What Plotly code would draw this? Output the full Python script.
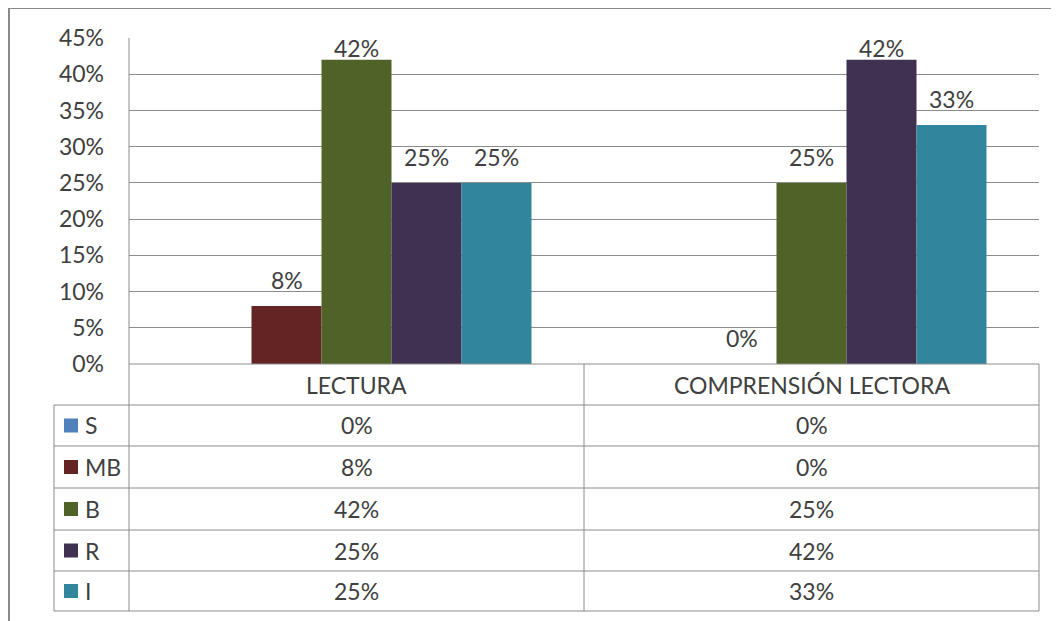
import plotly.graph_objects as go

# data
categories = ["LECTURA", "COMPRENSIÓN LECTORA"]
series_names = ["S", "MB", "B", "R", "I"]
s_vals = [0.00, 0.00]
mb_vals = [0.08, 0.00]
b_vals = [0.42, 0.25]
r_vals = [0.25, 0.42]
i_vals = [0.25, 0.33]
series_values = [s_vals, mb_vals, b_vals, r_vals, i_vals]
y_ticks = [0, 0.05, 0.10, 0.15, 0.20, 0.25, 0.30, 0.35, 0.40, 0.45]

colors = ["#4F81BD", "#632523", "#4F6228", "#403151", "#31859C"]
show_label = [False, True, True, True, True]

OFF = 8  # page body margin of the browser
W, H = 1059 - OFF, 621 - OFF
PL, PR, PT, PB = 129, 1039, 38, 364  # plot area in window pixels
FONT = "Lato"
FS = 23
TXT = "#404040"
LINE = "#8C8C8C"


def px(x):
    return (x - PL) / (PR - PL)


def py(y):
    return (PB - y) / (PB - PT)


fig = go.Figure()

bar_w = 70 / 455
n = len(series_names)
for k, (name, vals) in enumerate(zip(series_names, series_values)):
    fig.add_trace(go.Bar(
        x=list(range(len(categories))),
        y=vals,
        name=name,
        width=bar_w,
        offset=(k - n / 2) * bar_w,
        marker=dict(color=colors[k], line=dict(width=0)),
        showlegend=False,
        hoverinfo="skip",
    ))

# data labels above bars (kept inside the plot area like Excel does)
ymax = 0.45
for k, vals in enumerate(series_values):
    if not show_label[k]:
        continue
    for c, v in enumerate(vals):
        gap = (ymax - v) / ymax * (PB - PT)
        shift = min(26, gap - 10)
        fig.add_annotation(
            x=c + (k - n / 2 + 0.5) * bar_w, y=v, xref="x", yref="y",
            text=f"{v:.0%}", showarrow=False, xanchor="center",
            yanchor="middle", yshift=shift,
            font=dict(family=FONT, size=FS, color=TXT),
        )

shapes = []


def hline(x0, x1, y):
    shapes.append(dict(type="line", xref="paper", yref="paper",
                       x0=px(x0), x1=px(x1), y0=py(y), y1=py(y),
                       line=dict(color=LINE, width=1)))


def vline(x, y0, y1):
    shapes.append(dict(type="line", xref="paper", yref="paper",
                       x0=px(x), x1=px(x), y0=py(y0), y1=py(y1),
                       line=dict(color=LINE, width=1)))


# data table grid
row_lines = [405, 446, 488, 530, 571, 611]
hline(PL, PR, 364)
for yl in row_lines:
    hline(54, PR, yl)
vline(PL, PT, 611)
vline(584, 364, 611)
vline(PR, 364, 611)
vline(54, 405, 611)

# outer chart border
shapes.append(dict(type="line", xref="paper", yref="paper",
                   x0=px(9), x1=px(9), y0=py(625), y1=py(8),
                   line=dict(color="#8A8A8A", width=2)))
shapes.append(dict(type="line", xref="paper", yref="paper",
                   x0=px(9), x1=px(1065), y0=py(8), y1=py(8),
                   line=dict(color="#8A8A8A", width=2)))

col_centers = [(PL + 584) / 2, (584 + PR) / 2]
for c, cat in enumerate(categories):
    fig.add_annotation(x=px(col_centers[c]), y=py(385), xref="paper", yref="paper",
                       text=cat, showarrow=False, xanchor="center", yanchor="middle",
                       font=dict(family=FONT, size=FS, color=TXT))

for k, name in enumerate(series_names):
    yc = (row_lines[k] + row_lines[k + 1]) / 2
    shapes.append(dict(type="rect", xref="paper", yref="paper",
                       x0=px(64), x1=px(78), y0=py(yc - 7), y1=py(yc + 7),
                       fillcolor=colors[k], line=dict(width=0)))
    fig.add_annotation(x=px(83), y=py(yc), xref="paper", yref="paper",
                       text=name, showarrow=False, xanchor="left", yanchor="middle",
                       font=dict(family=FONT, size=FS, color=TXT))
    for c, v in enumerate(series_values[k]):
        fig.add_annotation(x=px(col_centers[c]), y=py(yc), xref="paper", yref="paper",
                           text=f"{v:.0%}", showarrow=False,
                           xanchor="center", yanchor="middle",
                           font=dict(family=FONT, size=FS, color=TXT))

fig.update_layout(
    width=W, height=H,
    margin=dict(l=PL - OFF, r=W + OFF - PR, t=PT - OFF, b=H + OFF - PB),
    plot_bgcolor="white", paper_bgcolor="white",
    barmode="overlay",
    shapes=shapes,
    xaxis=dict(range=[-0.5, len(categories) - 0.5], showgrid=False, zeroline=False,
               showticklabels=False, showline=False, fixedrange=True),
    yaxis=dict(range=[0, ymax], tickvals=y_ticks, tickformat=".0%",
               showgrid=True, gridcolor=LINE, gridwidth=1, zeroline=False,
               showline=False, ticklabelstandoff=24,
               tickfont=dict(family=FONT, size=FS, color=TXT), fixedrange=True),
)

fig.write_html("out.html")
